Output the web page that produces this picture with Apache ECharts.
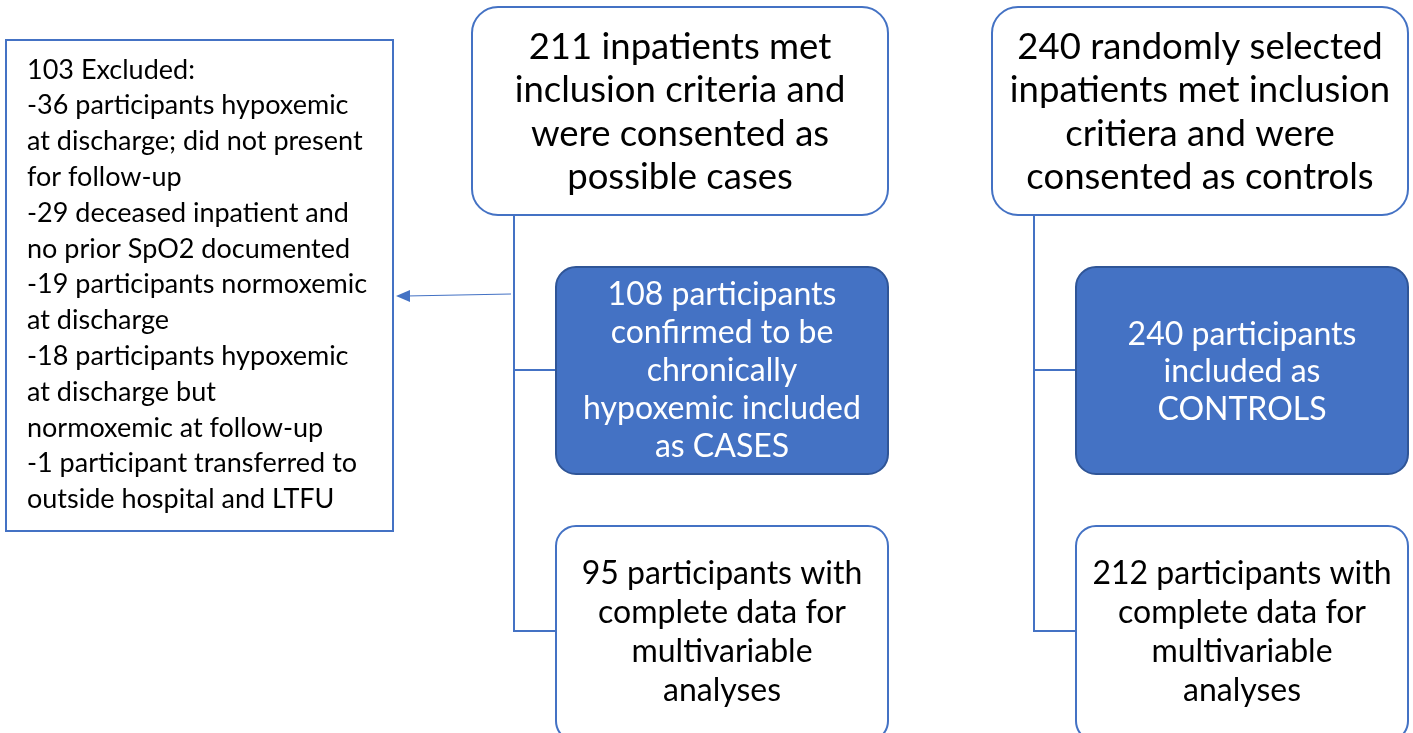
<!DOCTYPE html>
<html>
<head>
<meta charset="utf-8">
<script src="https://cdn.jsdelivr.net/npm/echarts@6/dist/echarts.min.js"></script>
<style>
	html, body { margin: 0; padding: 0; background: #fff; }
	#chart { width: 1413px; height: 733px; }
</style>
</head>
<body>
<div id="chart"></div>
<script>
	// counts in the flow
	var caseCounts = [211, 108, 95];
	var controlCounts = [240, 240, 212];
	var excludedCounts = [103, 36, 29, 19, 18, 1];

	// box texts
	var caseTexts = [
		caseCounts[0] + ' inpatients met\ninclusion criteria and\nwere consented as\npossible cases',
		caseCounts[1] + ' participants\nconfirmed to be\nchronically\nhypoxemic included\nas CASES',
		caseCounts[2] + ' participants with\ncomplete data for\nmultivariable\nanalyses'
	];
	var controlTexts = [
		controlCounts[0] + ' randomly selected\ninpatients met inclusion\ncritiera and were\nconsented as controls',
		controlCounts[1] + ' participants\nincluded as\nCONTROLS',
		controlCounts[2] + ' participants with\ncomplete data for\nmultivariable\nanalyses'
	];
	var excludedLines = [
		excludedCounts[0] + ' Excluded:',
		'-' + excludedCounts[1] + ' participants hypoxemic',
		'at discharge; did not present',
		'for follow-up',
		'-' + excludedCounts[2] + ' deceased inpatient and',
		'no prior SpO2 documented',
		'-' + excludedCounts[3] + ' participants normoxemic',
		'at discharge',
		'-' + excludedCounts[4] + ' participants hypoxemic',
		'at discharge but',
		'normoxemic at follow-up',
		'-' + excludedCounts[5] + ' participant transferred to',
		'outside hospital and LTFU'
	];

	var blue = '#4472C4';
	var dark = '#2F5597';
	var fontFamily = 'Lato, "Open Sans", sans-serif';

	function box(x, y, w, h, r, filled) {
		return {
			type: 'rect',
			shape: { x: x, y: y, width: w, height: h, r: r },
			style: { fill: filled ? blue : '#fff', stroke: filled ? dark : blue, lineWidth: 2 }
		};
	}
	function label(text, cx, cy, size, lh, color) {
		return {
			type: 'text',
			x: cx, y: cy,
			style: {
				text: text,
				fill: color,
				font: size + 'px ' + fontFamily,
				lineHeight: lh,
				align: 'center',
				verticalAlign: 'middle'
			}
		};
	}
	function line(x1, y1, x2, y2) {
		return {
			type: 'line',
			shape: { x1: x1, y1: y1, x2: x2, y2: y2 },
			style: { stroke: blue, lineWidth: 2 }
		};
	}

	var elements = [];
	// connectors, left branch
	elements.push(line(514, 215, 514, 631));
	elements.push(line(513, 370, 556, 370));
	elements.push(line(513, 631, 556, 631));
	// connectors, right branch
	elements.push(line(1034, 215, 1034, 631));
	elements.push(line(1033, 370, 1076, 370));
	elements.push(line(1033, 631, 1076, 631));
	// arrow to excluded box
	elements.push({
		type: 'line',
		shape: { x1: 511, y1: 294, x2: 406, y2: 296 },
		style: { stroke: blue, lineWidth: 1.2 }
	});
	elements.push({
		type: 'polygon',
		shape: { points: [[396, 296], [410, 290], [410, 302]] },
		style: { fill: blue }
	});

	// boxes
	elements.push(box(472, 7, 416, 208, 26, false));
	elements.push(box(992, 7, 416, 208, 26, false));
	elements.push(box(556, 267, 332, 207, 20, true));
	elements.push(box(1076, 267, 332, 207, 20, true));
	elements.push(box(556, 526, 332, 215, 20, false));
	elements.push(box(1076, 526, 332, 215, 20, false));
	elements.push({
		type: 'rect',
		shape: { x: 6, y: 40, width: 387, height: 491 },
		style: { fill: '#fff', stroke: blue, lineWidth: 2 }
	});

	// texts
	elements.push(label(caseTexts[0], 680, 112, 36.5, 43.5, '#000'));
	elements.push(label(controlTexts[0], 1200, 112, 36.5, 43.5, '#000'));
	elements.push(label(caseTexts[1], 722, 371, 32, 38, '#fff'));
	elements.push(label(controlTexts[1], 1242, 372, 32, 37.5, '#fff'));
	elements.push(label(caseTexts[2], 722, 632, 32, 39, '#000'));
	elements.push(label(controlTexts[2], 1242, 632, 32, 39, '#000'));
	elements.push({
		type: 'text',
		x: 27, y: 52,
		style: {
			text: excludedLines.join('\n'),
			fill: '#000',
			font: '27px ' + fontFamily,
			lineHeight: 35.8,
			align: 'left',
			verticalAlign: 'top'
		}
	});

	var myChart = echarts.init(document.getElementById('chart'));
	var option = {
		backgroundColor: '#fff',
		animation: false,
		graphic: { elements: elements }
	};
	myChart.setOption(option);
</script>
</body>
</html>
